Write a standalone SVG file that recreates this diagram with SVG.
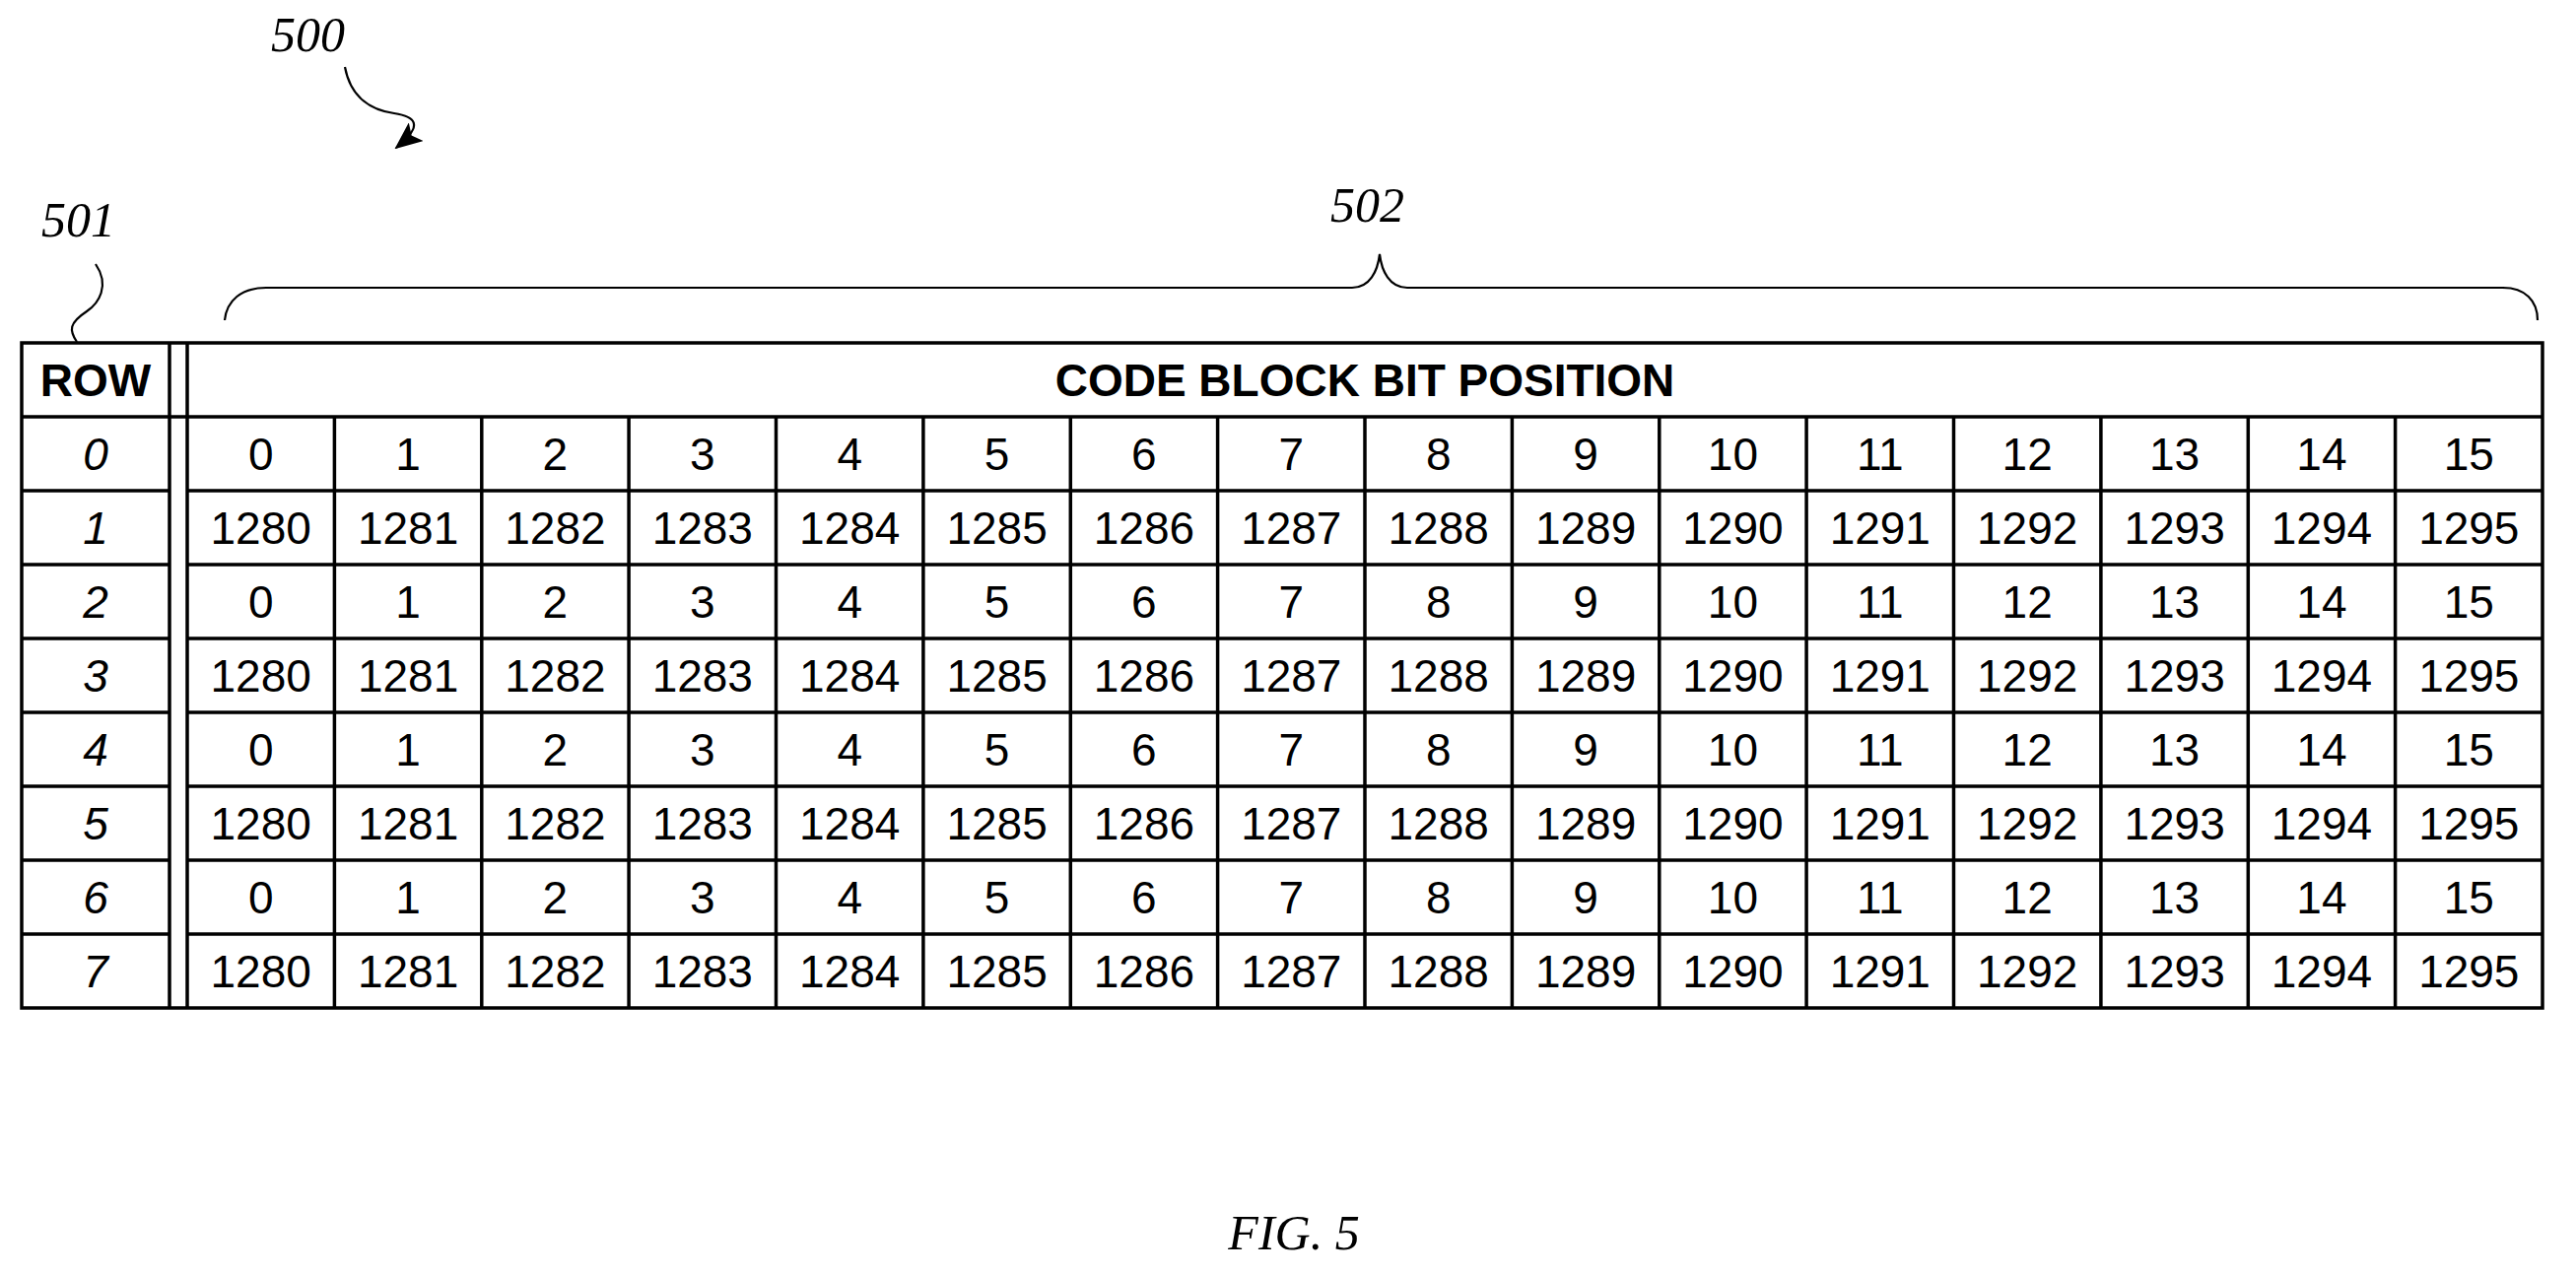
<svg xmlns="http://www.w3.org/2000/svg" width="2614" height="1293" viewBox="0 0 2614 1293">
<style>
.g{stroke:#000;stroke-width:3.5;fill:none}
.t{font-family:"Liberation Sans Narrow","Liberation Sans",Arial,sans-serif;font-size:46px;text-anchor:middle}
.r{font-style:italic}
.b{font-weight:bold}
.ref{font-family:"Liberation Serif","Times New Roman",serif;font-style:italic;font-size:50px}
.l{stroke:#000;stroke-width:2.2;fill:none}
</style>
<defs><marker id="ah" markerWidth="28" markerHeight="24" refX="26" refY="12" orient="auto" markerUnits="userSpaceOnUse" viewBox="0 0 28 24"><path d="M0,0 L28,12 L0,24 L6,12 Z" fill="#000"/></marker></defs>
<rect width="2614" height="1293" fill="#fff"/>
<g id="labels">
<text class="ref" x="275" y="52">500</text>
<text class="ref" x="42" y="240">501</text>
<text class="ref" x="1350" y="225">502</text>
<text class="ref" x="1313" y="1268" text-anchor="middle" font-size="72">FIG. 5</text>
</g>
<g id="connectors">
<path class="l" d="M350,68 C356,100 378,112 400,115 C420,118 432,126 402,150" marker-end="url(#ah)"/>
<path class="l" d="M97,268 C112,290 100,308 88,316 C70,328 70,335 78,347"/>
<path class="l" d="M228,325 C230,305 245,292 270,292 L1372,292 C1390,292 1398,275 1400,258 C1402,275 1410,292 1428,292 L2540,292 C2562,292 2575,305 2575,325"/>
</g>
<g id="table">
<rect class="g" x="22" y="348" width="2558" height="675"/>
<path class="g" d="M172,348V1023M190,348V1023"/>
<path class="g" d="M22,423H2580M22,498H172M190,498H2580M22,573H172M190,573H2580M22,648H172M190,648H2580M22,723H172M190,723H2580M22,798H172M190,798H2580M22,873H172M190,873H2580M22,948H172M190,948H2580"/>
<path class="g" d="M339.4,423V1023M488.8,423V1023M638.1,423V1023M787.5,423V1023M936.9,423V1023M1086.3,423V1023M1235.6,423V1023M1385,423V1023M1534.4,423V1023M1683.8,423V1023M1833.1,423V1023M1982.5,423V1023M2131.9,423V1023M2281.3,423V1023M2430.6,423V1023"/>
<text class="t b" x="97" y="402">ROW</text>
<text class="t b" x="1385" y="402">CODE BLOCK BIT POSITION</text>
<g class="t r">
<text x="97" y="477">0</text><text x="97" y="552">1</text><text x="97" y="627">2</text><text x="97" y="702">3</text><text x="97" y="777">4</text><text x="97" y="852">5</text><text x="97" y="927">6</text><text x="97" y="1002">7</text>
</g>
<g class="t" id="cells">
<g id="r0">
<text x="264.7" y="477">0</text><text x="414.1" y="477">1</text><text x="563.4" y="477">2</text><text x="712.8" y="477">3</text><text x="862.2" y="477">4</text><text x="1011.6" y="477">5</text><text x="1160.9" y="477">6</text><text x="1310.3" y="477">7</text><text x="1459.7" y="477">8</text><text x="1609.1" y="477">9</text><text x="1758.4" y="477">10</text><text x="1907.8" y="477">11</text><text x="2057.2" y="477">12</text><text x="2206.6" y="477">13</text><text x="2355.9" y="477">14</text><text x="2505.3" y="477">15</text>
<text x="264.7" y="552">1280</text><text x="414.1" y="552">1281</text><text x="563.4" y="552">1282</text><text x="712.8" y="552">1283</text><text x="862.2" y="552">1284</text><text x="1011.6" y="552">1285</text><text x="1160.9" y="552">1286</text><text x="1310.3" y="552">1287</text><text x="1459.7" y="552">1288</text><text x="1609.1" y="552">1289</text><text x="1758.4" y="552">1290</text><text x="1907.8" y="552">1291</text><text x="2057.2" y="552">1292</text><text x="2206.6" y="552">1293</text><text x="2355.9" y="552">1294</text><text x="2505.3" y="552">1295</text>
</g>
<g transform="translate(0,150)">
<text x="264.7" y="477">0</text><text x="414.1" y="477">1</text><text x="563.4" y="477">2</text><text x="712.8" y="477">3</text><text x="862.2" y="477">4</text><text x="1011.6" y="477">5</text><text x="1160.9" y="477">6</text><text x="1310.3" y="477">7</text><text x="1459.7" y="477">8</text><text x="1609.1" y="477">9</text><text x="1758.4" y="477">10</text><text x="1907.8" y="477">11</text><text x="2057.2" y="477">12</text><text x="2206.6" y="477">13</text><text x="2355.9" y="477">14</text><text x="2505.3" y="477">15</text>
<text x="264.7" y="552">1280</text><text x="414.1" y="552">1281</text><text x="563.4" y="552">1282</text><text x="712.8" y="552">1283</text><text x="862.2" y="552">1284</text><text x="1011.6" y="552">1285</text><text x="1160.9" y="552">1286</text><text x="1310.3" y="552">1287</text><text x="1459.7" y="552">1288</text><text x="1609.1" y="552">1289</text><text x="1758.4" y="552">1290</text><text x="1907.8" y="552">1291</text><text x="2057.2" y="552">1292</text><text x="2206.6" y="552">1293</text><text x="2355.9" y="552">1294</text><text x="2505.3" y="552">1295</text>
</g>
<g transform="translate(0,300)">
<text x="264.7" y="477">0</text><text x="414.1" y="477">1</text><text x="563.4" y="477">2</text><text x="712.8" y="477">3</text><text x="862.2" y="477">4</text><text x="1011.6" y="477">5</text><text x="1160.9" y="477">6</text><text x="1310.3" y="477">7</text><text x="1459.7" y="477">8</text><text x="1609.1" y="477">9</text><text x="1758.4" y="477">10</text><text x="1907.8" y="477">11</text><text x="2057.2" y="477">12</text><text x="2206.6" y="477">13</text><text x="2355.9" y="477">14</text><text x="2505.3" y="477">15</text>
<text x="264.7" y="552">1280</text><text x="414.1" y="552">1281</text><text x="563.4" y="552">1282</text><text x="712.8" y="552">1283</text><text x="862.2" y="552">1284</text><text x="1011.6" y="552">1285</text><text x="1160.9" y="552">1286</text><text x="1310.3" y="552">1287</text><text x="1459.7" y="552">1288</text><text x="1609.1" y="552">1289</text><text x="1758.4" y="552">1290</text><text x="1907.8" y="552">1291</text><text x="2057.2" y="552">1292</text><text x="2206.6" y="552">1293</text><text x="2355.9" y="552">1294</text><text x="2505.3" y="552">1295</text>
</g>
<g transform="translate(0,450)">
<text x="264.7" y="477">0</text><text x="414.1" y="477">1</text><text x="563.4" y="477">2</text><text x="712.8" y="477">3</text><text x="862.2" y="477">4</text><text x="1011.6" y="477">5</text><text x="1160.9" y="477">6</text><text x="1310.3" y="477">7</text><text x="1459.7" y="477">8</text><text x="1609.1" y="477">9</text><text x="1758.4" y="477">10</text><text x="1907.8" y="477">11</text><text x="2057.2" y="477">12</text><text x="2206.6" y="477">13</text><text x="2355.9" y="477">14</text><text x="2505.3" y="477">15</text>
<text x="264.7" y="552">1280</text><text x="414.1" y="552">1281</text><text x="563.4" y="552">1282</text><text x="712.8" y="552">1283</text><text x="862.2" y="552">1284</text><text x="1011.6" y="552">1285</text><text x="1160.9" y="552">1286</text><text x="1310.3" y="552">1287</text><text x="1459.7" y="552">1288</text><text x="1609.1" y="552">1289</text><text x="1758.4" y="552">1290</text><text x="1907.8" y="552">1291</text><text x="2057.2" y="552">1292</text><text x="2206.6" y="552">1293</text><text x="2355.9" y="552">1294</text><text x="2505.3" y="552">1295</text>
</g>
</g>
</g>
</svg>
